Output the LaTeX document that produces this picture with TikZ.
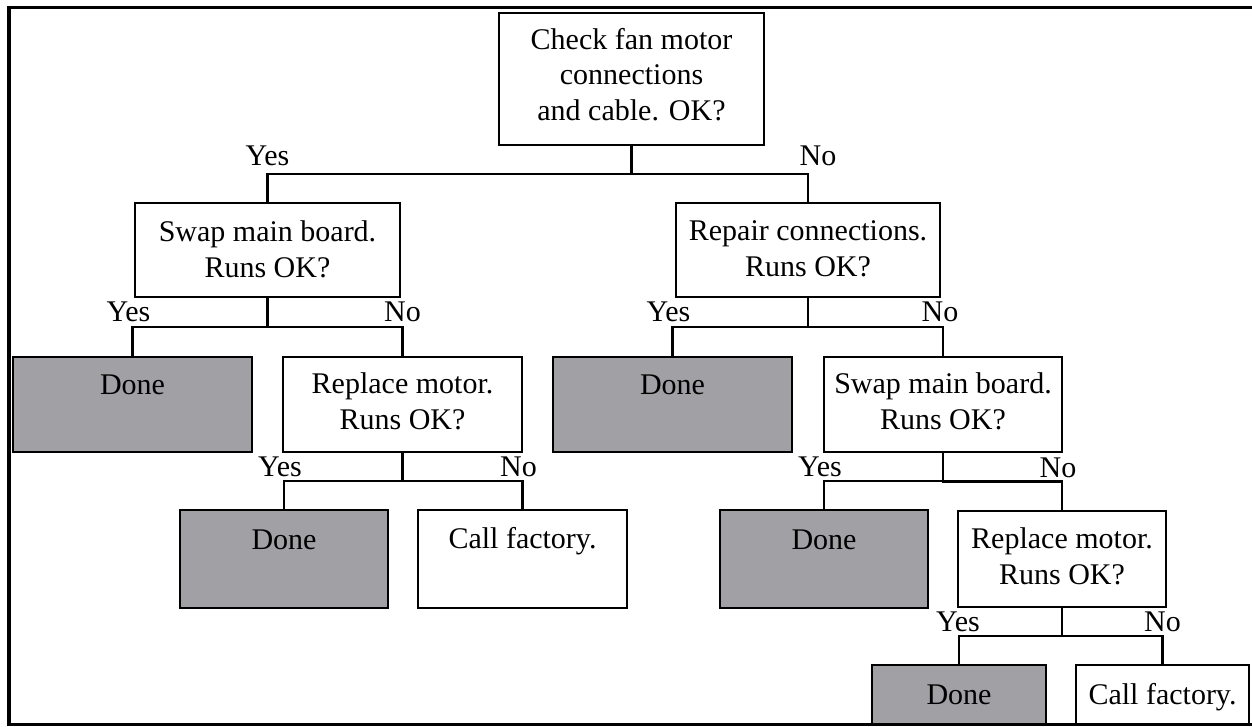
\documentclass[tikz,border=0pt]{standalone}
\usepackage{fontspec}
\setmainfont{Liberation Serif}
\usetikzlibrary{calc}
\definecolor{doneGray}{RGB}{161,161,165}
\tikzset{
    box/.style={draw, line width=2.2pt, inner sep=0pt, fill=white},
    donebox/.style={box, fill=doneGray},
    txt/.style={font=\fontsize{30}{35.5}\selectfont, align=center, inner sep=0pt, anchor=north},
    lbl/.style={font=\fontsize{30}{36}\selectfont, inner sep=0pt},
    wire/.style={line width=2.2pt},
    frame/.style={line width=3.5pt}
}
\begin{document}
\begin{tikzpicture}[x=1pt, y=-1pt]
    \useasboundingbox (0,0) rectangle (1252,726);
    \draw [frame] (1252,7.5) -- (9,7.5) -- (9,724.5) -- (1252,724.5);

    % questions
    \node [box, minimum width=265pt, minimum height=132pt] (chk) at (631.5,79) {};
    \node [box, minimum width=265pt, minimum height=94pt] (swapA) at (267.5,250) {};
    \node [box, minimum width=264pt, minimum height=94pt] (repA) at (808,250) {};
    \node [box, minimum width=239pt, minimum height=95pt] (replA) at (402.5,404.5) {};
    \node [box, minimum width=238pt, minimum height=95pt] (swapB) at (943,404.5) {};
    \node [box, minimum width=208pt, minimum height=96pt] (replB) at (1062,559) {};
    % end points
    \node [donebox, minimum width=239pt, minimum height=95pt] (doneA) at (132.5,404.5) {};
    \node [donebox, minimum width=239pt, minimum height=95pt] (doneB) at (672.5,404.5) {};
    \node [donebox, minimum width=208pt, minimum height=98pt] (doneC) at (284,559) {};
    \node [box, minimum width=209pt, minimum height=98pt] (callA) at (522.5,559) {};
    \node [donebox, minimum width=208pt, minimum height=98pt] (doneD) at (824,559) {};
    \node [donebox, minimum width=174pt, minimum height=59pt] (doneE) at (959,694.5) {};
    \node [box, minimum width=173pt, minimum height=59pt] (callB) at (1162.5,694.5) {};

    % texts
    \node [txt] (chkT) at ([yshift=-16pt]chk.north) {Check fan motor\\connections\\and cable. OK?};
    \node [txt] (swapAT) at ([yshift=-19pt]swapA.north) {Swap main board.\\Runs OK?};
    \node [txt] (repAT) at ([yshift=-19pt]repA.north) {Repair connections.\\Runs OK?};
    \node [txt] (replAT) at ([yshift=-17pt]replA.north) {Replace motor.\\Runs OK?};
    \node [txt] (swapBT) at ([yshift=-17pt]swapB.north) {Swap main board.\\Runs OK?};
    \node [txt] (replBT) at ([yshift=-18pt]replB.north) {Replace motor.\\Runs OK?};
    \foreach \b in {doneA,doneB} {
        \node [txt] (\b T) at ([yshift=-19pt]\b.north) {Done};
    }
    \foreach \b in {doneC,doneD,doneE} {
        \node [txt] (\b T) at ([yshift=-20.5pt]\b.north) {Done};
    }
    \node [txt] (callAT) at ([yshift=-18.5pt]callA.north) {Call factory.};
    \node [txt] (callBT) at ([yshift=-19pt]callB.north) {Call factory.};

    % connectors
    \foreach \p/\c in {chk/swapA, chk/repA, swapA/doneA, swapA/replA, replA/doneC, replA/callA,
                       repA/doneB, repA/swapB, swapB/doneD, swapB/replB, replB/doneE, replB/callB} {
        \draw [wire] (\p.south) -- ($(\p.south)!0.5!(\p.south |- \c.north)$) -| (\c.north);
    }

    % yes / no
    \node [lbl] (yes1) at ([yshift=46pt]swapA.north) {Yes};
    \node [lbl] (no1) at ([xshift=10pt,yshift=46pt]repA.north) {No};
    \node [lbl] (yes2) at ([xshift=-4pt,yshift=44pt]doneA.north) {Yes};
    \node [lbl] (no2) at ([yshift=44pt]replA.north) {No};
    \node [lbl] (yes3) at ([xshift=-4pt,yshift=42pt]doneC.north) {Yes};
    \node [lbl] (no3) at ([xshift=-4pt,yshift=42pt]callA.north) {No};
    \node [lbl] (yes4) at ([xshift=-4pt,yshift=44pt]doneB.north) {Yes};
    \node [lbl] (no4) at ([xshift=-3pt,yshift=44pt]swapB.north) {No};
    \node [lbl] (yes5) at ([xshift=-4pt,yshift=42pt]doneD.north) {Yes};
    \node [lbl] (no5) at ([xshift=-4pt,yshift=42pt]replB.north) {No};
    \node [lbl] (yes6) at ([xshift=-1pt,yshift=42pt]doneE.north) {Yes};
    \node [lbl] (no6) at ([yshift=42pt]callB.north) {No};
\end{tikzpicture}
\end{document}
